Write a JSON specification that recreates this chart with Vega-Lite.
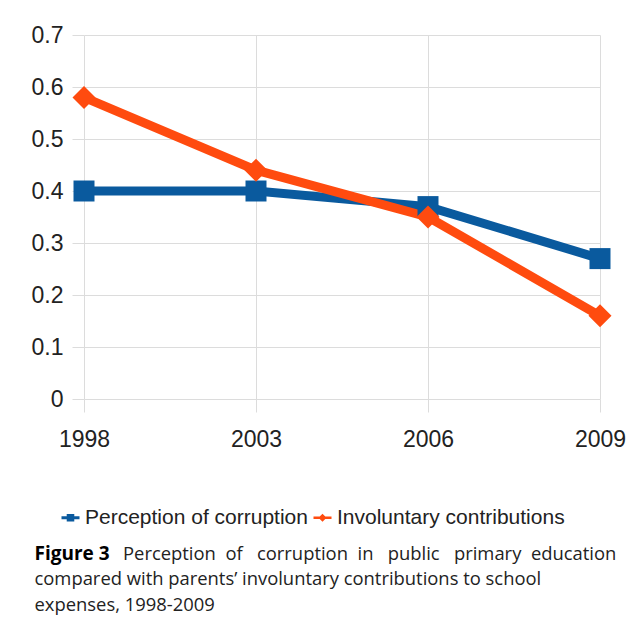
{
  "$schema": "https://vega.github.io/schema/vega-lite/v6.json",
  "width": 516,
  "height": 364,
  "autosize": {"type": "none"},
  "padding": {"left": 84, "top": 35, "right": 36, "bottom": 220},
  "background": "white",
  "title": {
    "text": "Perception \u00a0of \u00a0\u00a0corruption \u00a0in \u00a0\u00a0public \u00a0\u00a0primary \u00a0education",
    "orient": "top", "anchor": "start", "frame": "group", "align": "left", "baseline": "alphabetic",
    "offset": 0, "dx": 39, "dy": 554,
    "font": "Open Sans", "fontSize": 18.4, "fontWeight": "normal", "color": "#222222", "limit": 1000
  },
  "config": {
    "view": {"stroke": null},
    "axis": {"labelFont": "Liberation Sans", "labelColor": "#222222", "gridColor": "#dcdcdc", "tickColor": "#dcdcdc", "domain": false}
  },
  "data": {
    "values": [
      {"year": "1998", "series": "Perception of corruption", "value": 0.40},
      {"year": "2003", "series": "Perception of corruption", "value": 0.40},
      {"year": "2006", "series": "Perception of corruption", "value": 0.37},
      {"year": "2009", "series": "Perception of corruption", "value": 0.27},
      {"year": "1998", "series": "Involuntary contributions", "value": 0.58},
      {"year": "2003", "series": "Involuntary contributions", "value": 0.44},
      {"year": "2006", "series": "Involuntary contributions", "value": 0.35},
      {"year": "2009", "series": "Involuntary contributions", "value": 0.16}
    ]
  },
  "encoding": {
    "x": {
      "field": "year", "type": "ordinal", "scale": {"type": "point", "padding": 0},
      "title": ["compared with parents\u2019 involuntary contributions to school", "expenses, 1998-2009"],
      "axis": {
        "labelAngle": 0, "labelFontSize": 23, "labelPadding": 16, "labelBaseline": "top",
        "tickSize": 13, "grid": true,
        "titleFont": "Open Sans", "titleFontSize": 18.4, "titleFontWeight": "normal", "titleColor": "#222222",
        "titleAlign": "left", "titleAnchor": "start", "titleBaseline": "alphabetic", "titleLineHeight": 25.5,
        "titleX": -50, "titleY": 185.5, "titleLimit": 1000
      }
    },
    "y": {
      "field": "value", "type": "quantitative",
      "scale": {"domain": [0, 0.7], "nice": false, "zero": true},
      "title": "Figure 3",
      "axis": {
        "values": [0, 0.1, 0.2, 0.3, 0.4, 0.5, 0.6, 0.7], "format": ".1~f",
        "labelFontSize": 23, "labelPadding": 9, "tickSize": 12, "grid": true,
        "titleFont": "Open Sans", "titleFontSize": 19, "titleFontWeight": "bold", "titleColor": "#000000",
        "titleAngle": 0, "titleAlign": "left", "titleBaseline": "alphabetic", "titleX": -50, "titleY": 524
      }
    },
    "color": {
      "field": "series", "type": "nominal",
      "scale": {"domain": ["Perception of corruption", "Involuntary contributions"], "range": ["#0a5a9e", "#ff4b0f"]},
      "legend": {
        "title": null, "orient": "none", "direction": "horizontal", "legendX": -24, "legendY": 472,
        "labelFont": "Liberation Sans", "labelFontSize": 21, "labelColor": "#222222", "labelOffset": 4, "labelLimit": 400,
        "columnPadding": 4, "symbolSize": 324, "padding": 0,
        "encode": {
          "symbols": {
            "update": {
              "shape": {"signal": "datum.value === 'Perception of corruption' ? 'M-1,-0.17H1V0.17H-1Z M-0.42,-0.42H0.42V0.42H-0.42Z' : 'M-1,-0.15H1V0.15H-1Z M0,-0.45L0.45,0L0,0.45L-0.45,0Z'"},
              "fill": {"signal": "datum.value === 'Perception of corruption' ? '#0a5a9e' : '#ff4b0f'"},
              "fillOpacity": {"value": 1},
              "strokeWidth": {"value": 0}
            }
          }
        }
      }
    }
  },
  "layer": [
    {"mark": {"type": "line", "strokeWidth": 9}},
    {"transform": [{"filter": "datum.series === 'Perception of corruption'"}], "mark": {"type": "point", "shape": "square", "size": 441, "filled": true, "opacity": 1}},
    {"transform": [{"filter": "datum.series === 'Involuntary contributions'"}], "mark": {"type": "point", "shape": "diamond", "size": 529, "filled": true, "opacity": 1}}
  ]
}
